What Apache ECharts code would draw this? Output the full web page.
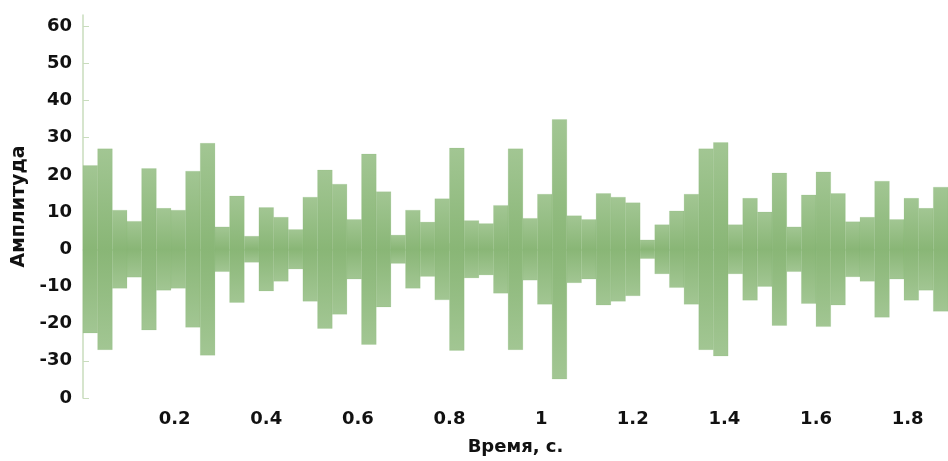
<!DOCTYPE html>
<html>
<head>
<meta charset="utf-8">
<script src="https://cdn.jsdelivr.net/npm/echarts@6/dist/echarts.min.js"></script>
<style>
html,body{margin:0;padding:0;background:#fff;}
#chart{width:948px;height:461px;}
</style>
</head>
<body>
<div id="chart"></div>
<script>
// Segment amplitudes (each segment is a constant-amplitude burst)
var blockDuration = 0.032; // seconds per segment
var amplitudes = [
  22.5, 27, 10.5, 7.5, 21.7, 11, 10.5, 21, 28.5, 6,
  14.3, 3.5, 11.2, 8.6, 5.3, 14, 21.3, 17.5, 8, 25.6,
  15.5, 3.8, 10.5, 7.3, 13.6, 27.2, 7.7, 6.9, 11.8, 27,
  8.3, 14.8, 34.9, 9, 8, 15, 14, 12.5, 2.5, 6.6,
  10.3, 14.8, 27, 28.7, 6.6, 13.7, 10, 20.5, 6, 14.6,
  20.8, 15, 7.4, 8.6, 18.3, 8, 13.7, 11, 16.7
];
var xTickValues = [0, 0.2, 0.4, 0.6, 0.8, 1, 1.2, 1.4, 1.6, 1.8];
var xTickLabels = ['', '0.2', '0.4', '0.6', '0.8', '1', '1.2', '1.4', '1.6', '1.8'];
var yTickValues = [-40, -30, -20, -10, 0, 10, 20, 30, 40, 50, 60];
var yTickLabels = ['0', '-30', '-20', '-10', '0', '10', '20', '30', '40', '50', '60'];
var xTitle = 'Время, с.';
var yTitle = 'Амплитуда';

var data = amplitudes.map(function (a, i) {
  return [i * blockDuration, (i + 1) * blockDuration, a];
});
var xMax = amplitudes.length * blockDuration;

var chart = echarts.init(document.getElementById('chart'), null, {renderer: 'canvas'});
var font = 'DejaVu Sans';
var axisColor = '#c9dcbd';

function lookup(values, labels, v) {
  for (var i = 0; i < values.length; i++) {
    if (Math.abs(values[i] - v) < 1e-6) return labels[i];
  }
  return '';
}

chart.setOption({
  animation: false,
  backgroundColor: '#ffffff',
  grid: {left: 83, right: 0, top: 15, bottom: 59, containLabel: false},
  xAxis: {
    type: 'value', min: 0, max: xMax, interval: 0.2,
    name: xTitle, nameLocation: 'middle', nameGap: 40,
    nameTextStyle: {fontFamily: font, fontWeight: 'bold', fontSize: 18, color: '#111'},
    axisLine: {show: true, lineStyle: {color: axisColor, width: 1.5}},
    axisTick: {show: true, inside: true, length: 6, customValues: xTickValues, lineStyle: {color: axisColor}},
    splitLine: {show: false},
    axisLabel: {
      margin: 12, fontFamily: font, fontWeight: 'bold', fontSize: 18, color: '#111',
      customValues: xTickValues,
      formatter: function (v) { return lookup(xTickValues, xTickLabels, v); }
    }
  },
  yAxis: {
    type: 'value', min: -40, max: 63, interval: 10,
    name: yTitle, nameLocation: 'middle', nameGap: 48, nameRotate: 90,
    nameTextStyle: {fontFamily: font, fontWeight: 'bold', fontSize: 19, color: '#111'},
    axisLine: {show: true, lineStyle: {color: axisColor, width: 1.5}},
    axisTick: {show: true, inside: true, length: 6, customValues: yTickValues, lineStyle: {color: axisColor}},
    splitLine: {show: false},
    axisLabel: {
      margin: 11, fontFamily: font, fontWeight: 'bold', fontSize: 18, color: '#111',
      customValues: yTickValues,
      formatter: function (v) { return lookup(yTickValues, yTickLabels, v); }
    }
  },
  series: [{
    type: 'custom',
    data: data,
    encode: {x: [0, 1], y: 2},
    renderItem: function (params, api) {
      var p1 = api.coord([api.value(0), api.value(2)]);
      var p2 = api.coord([api.value(1), -api.value(2)]);
      return {
        type: 'rect',
        shape: {x: p1[0], y: p1[1], width: p2[0] - p1[0], height: p2[1] - p1[1]},
        style: {
          fill: new echarts.graphic.LinearGradient(0, 0, 0, 1, [
            {offset: 0, color: '#a2c693'},
            {offset: 0.5, color: '#89b676'},
            {offset: 1, color: '#a2c693'}
          ]),
          stroke: 'rgba(130,178,110,0.3)',
          lineWidth: 0.5
        }
      };
    }
  }]
});
</script>
</body>
</html>
